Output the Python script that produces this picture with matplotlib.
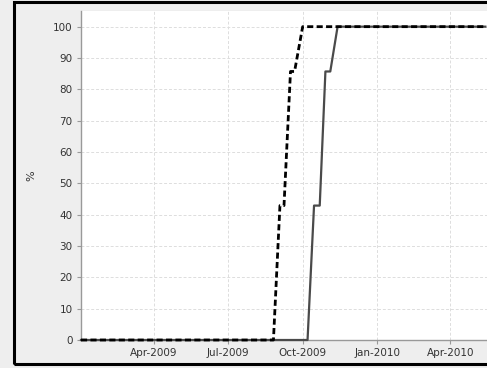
import matplotlib
matplotlib.use("Agg")
import matplotlib.pyplot as plt
import matplotlib.dates as mdates
from matplotlib.patches import Rectangle
from datetime import datetime as dt

# solid series
solid_dates = [dt(2009, 1, 1), dt(2009, 10, 7), dt(2009, 10, 15), dt(2009, 10, 22),
               dt(2009, 10, 29), dt(2009, 11, 4), dt(2009, 11, 13), dt(2010, 5, 14)]
solid_vals = [0, 0, 42.9, 42.9, 85.7, 85.7, 100, 100]

# dashed series
dash_dates = [dt(2009, 1, 1), dt(2009, 8, 26), dt(2009, 9, 3), dt(2009, 9, 8),
              dt(2009, 9, 16), dt(2009, 9, 21), dt(2009, 10, 1), dt(2010, 5, 14)]
dash_vals = [0, 0, 42.9, 42.9, 85.7, 85.7, 100, 100]

xticks = [dt(2009, 4, 1), dt(2009, 7, 1), dt(2009, 10, 1), dt(2010, 1, 1), dt(2010, 4, 1)]
yticks = list(range(0, 101, 10))

plt.rcParams['font.family'] = ['DejaVu Sans']

W, H = 487, 368
fig = plt.figure(figsize=(W / 100, H / 100), dpi=100)
fig.patch.set_facecolor('#eeeeee')

# black frame round the panel
fig.patches.append(Rectangle((13.5 / W, (H - 363.5) / H), (W + 10) / W, 362 / H,
                             transform=fig.transFigure, fill=False,
                             edgecolor='black', linewidth=2.2, clip_on=False))

ax = fig.add_axes([81 / W, (H - 340) / H, (W - 81) / W, 329 / H])
ax.set_facecolor('white')

ax.plot(solid_dates, solid_vals, color='#4a4a4a', lw=1.6, clip_on=False, zorder=3)
ax.plot(dash_dates, dash_vals, color='black', lw=2.0, linestyle=(0, (2.2, 1.2)),
        clip_on=False, zorder=4)

ax.set_ylim(0, 105)
ax.set_xlim(dt(2009, 1, 1), dt(2010, 5, 16))
ax.set_yticks(yticks)
ax.set_xticks(xticks)
ax.xaxis.set_major_formatter(mdates.DateFormatter('%b-%Y'))

ax.grid(True, color='#dddddd', linestyle=(0, (3, 2)), linewidth=0.7)
ax.set_axisbelow(True)

for s in ['top', 'right']:
    ax.spines[s].set_visible(False)
for s in ['left', 'bottom']:
    ax.spines[s].set_color('#999999')
    ax.spines[s].set_linewidth(1.0)

ax.tick_params(axis='both', length=3, width=0.8, color='#999999',
               labelsize=7.5, labelcolor='#333333', pad=3)

ax.set_ylabel('%', fontsize=8, color='#333333', labelpad=12)

fig.savefig('out.png', dpi=100, facecolor=fig.get_facecolor())
